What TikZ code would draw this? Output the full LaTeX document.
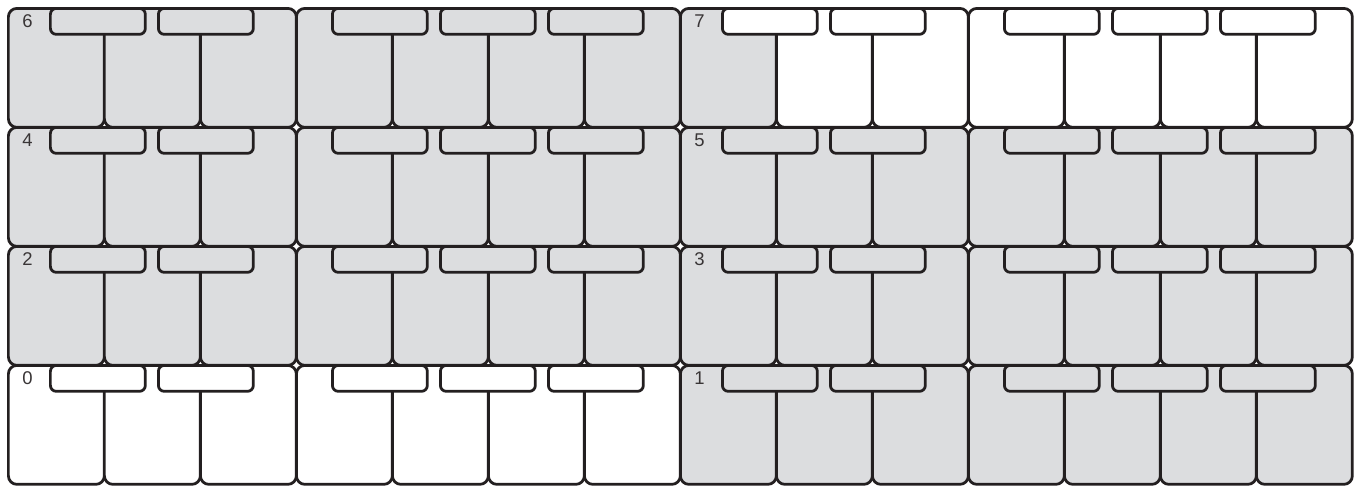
\documentclass[tikz,border=0pt]{standalone}
\usepackage{fontspec}
\setmainfont{Liberation Sans}
\usetikzlibrary{positioning}

\definecolor{gy}{RGB}{220,221,223}
\colorlet{wt}{white}
\definecolor{ink}{RGB}{35,31,32}

\begin{document}
\begin{tikzpicture}[
  x=0.02cm, y=-0.02cm,
  cell/.style={rectangle, rounded corners=0.17cm, draw=ink, line width=0.055cm, fill=#1,
               minimum width=1.92cm, minimum height=2.38cm, inner sep=0, anchor=north west},
  tab/.style={rectangle, rounded corners=0.12cm, draw=ink, line width=0.055cm, fill=#1,
              minimum width=1.9cm, minimum height=0.52cm, inner sep=0, anchor=north west},
  num/.style={font=\fontsize{10.5}{12}\selectfont, text=ink!90, inner sep=0},
]
\useasboundingbox (0,0) rectangle (1357,487);

% cells, one row at a time, top to bottom
\foreach \r/\fills in {
  0/{gy,gy,gy,gy,gy,gy,gy,gy,wt,wt,wt,wt,wt,wt},
  1/{gy,gy,gy,gy,gy,gy,gy,gy,gy,gy,gy,gy,gy,gy},
  2/{gy,gy,gy,gy,gy,gy,gy,gy,gy,gy,gy,gy,gy,gy},
  3/{wt,wt,wt,wt,wt,wt,wt,gy,gy,gy,gy,gy,gy,gy}}{
  \foreach \f [count=\i from 0] in \fills
    \node[cell=\f] (c\r-\i) at ({7+96*\i},{7+119*\r}) {};
}

% tabs on top of each block
\foreach \r/\ta/\tb/\tc/\td in {0/gy/gy/wt/wt, 1/gy/gy/gy/gy, 2/gy/gy/gy/gy, 3/wt/wt/gy/gy}{
  \foreach \k in {0,1}{
    \node[tab=\ta] (ta\r-\k) at ({49+108*\k},{7+119*\r}) {};
    \node[tab=\tc] (tc\r-\k) at ({721+108*\k},{7+119*\r}) {};
  }
  \foreach \k in {0,1,2}{
    \node[tab=\tb] (tb\r-\k) at ({331+108*\k},{7+119*\r}) {};
    \node[tab=\td] (td\r-\k) at ({1003+108*\k},{7+119*\r}) {};
  }
}

% numbers
\foreach \r/\na/\nc in {0/6/7, 1/4/5, 2/2/3, 3/0/1}{
  \node[num] (na\r) at (27.5,{21+119*\r}) {\na};
  \node[num] (nc\r) at (699.5,{21+119*\r}) {\nc};
}

\end{tikzpicture}
\end{document}
